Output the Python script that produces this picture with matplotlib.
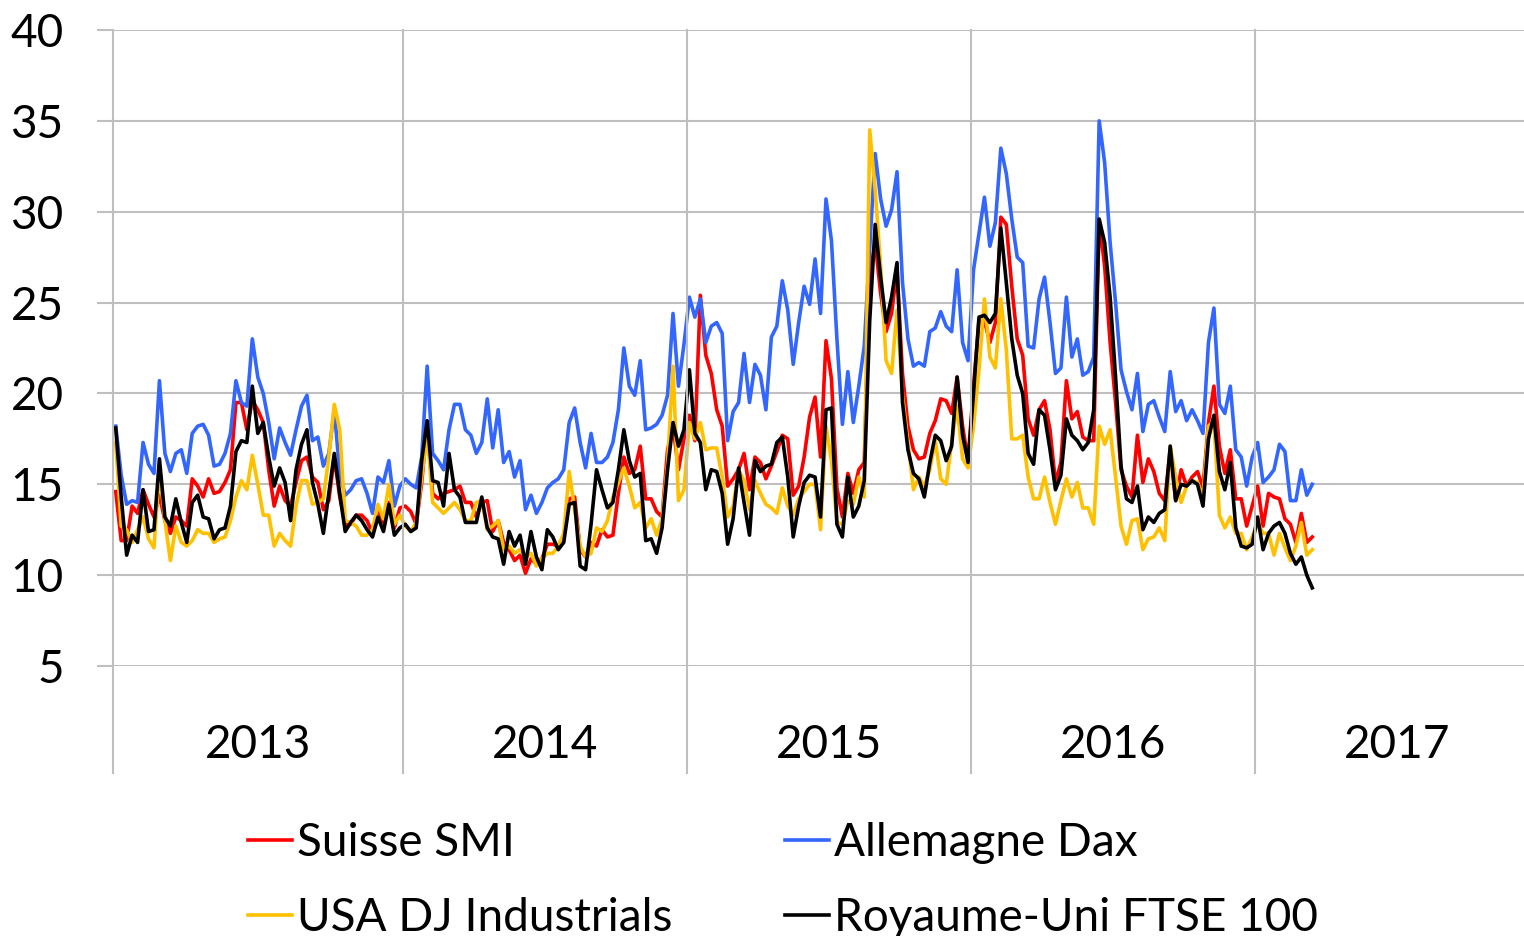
import matplotlib
matplotlib.use('Agg')
import matplotlib.pyplot as plt
import matplotlib.transforms as mtransforms
import numpy as np
import pandas as pd

plt.rcParams['font.family'] = ['Lato', 'DejaVu Sans']

# weekly category slots (one per Tuesday), grouped by year on the axis
first_week = '2013-01-01'
last_week = '2017-12-31'

# implied volatility, weekly values
smi = [14.6, 11.9, 11.9, 13.8, 13.4, 14.7, 13.9, 13.2, 14.4, 13.0, 12.3, 13.2, 13.0, 12.7, 15.3, 14.9, 14.3, 15.3, 14.5, 14.6, 15.1,
       15.8, 19.5, 19.5, 18.0, 19.6, 19.1, 18.4, 15.8, 13.8, 14.9, 14.1, 13.8, 15.1, 16.3, 16.5, 15.4, 15.1, 13.6, 14.1, 16.5, 14.3, 12.8,
       12.8, 13.3, 13.3, 13.0, 12.3, 13.7, 12.9, 14.0, 12.6, 13.7, 13.8, 13.5, 12.8, 15.1, 18.3, 14.5, 14.2, 14.5, 14.6, 14.7, 14.9, 14.0,
       14.0, 13.2, 14.0, 14.1, 12.4, 13.0, 11.8, 11.4, 10.8, 11.1, 10.1, 10.9, 10.6, 10.9, 11.7, 11.7, 11.6, 12.1, 14.2, 14.3, 11.4, 11.0,
       11.8, 11.6, 12.5, 12.1, 12.2, 14.5, 16.5, 15.6, 15.8, 17.1, 14.2, 14.2, 13.5, 13.2, 16.9, 18.2, 15.8, 17.5, 18.8, 17.4, 25.4, 22.1, 21.1,
       19.1, 18.2, 14.9, 15.3, 15.8, 16.7, 14.7, 16.5, 16.2, 15.3, 16.0, 16.8, 17.7, 17.5, 14.4, 14.9, 16.5, 18.7, 19.8, 16.5, 22.9, 20.8,
       14.8, 13.2, 15.6, 14.5, 15.8, 16.2, 26.5, 28.3, 25.5, 23.4, 24.4, 26.8, 21.1, 18.2, 16.9, 16.4, 16.5, 17.8, 18.5, 19.7, 19.6, 18.9,
       20.9, 18.2, 16.3, 20.4, 24.0, 24.0, 22.8, 23.9, 29.7, 29.3, 25.9, 23.0, 22.1, 18.6, 17.7, 19.1, 19.6, 18.0, 15.1, 16.2, 20.7, 18.6,
       19.0, 17.6, 17.4, 17.4, 29.5, 27.0, 22.8, 19.5, 15.8, 14.9, 14.3, 17.7, 15.1, 16.4, 15.7, 14.5, 14.1, 16.9, 14.1, 15.8, 14.9, 15.4,
       15.7, 14.8, 18.4, 20.4, 17.1, 15.6, 16.9, 14.2, 14.2, 12.7, 13.8, 14.9, 12.7, 14.5, 14.3, 14.2, 13.1, 12.8, 11.8, 13.4, 11.8, 12.1]

dax = [18.2, 15.5, 13.9, 14.1, 14.0, 17.3, 16.1, 15.6, 20.7, 16.7, 15.7, 16.7, 16.9, 15.6, 17.8, 18.2, 18.3, 17.7, 16.0, 16.1, 16.7,
       17.8, 20.7, 19.5, 19.3, 23.0, 20.9, 20.0, 18.4, 16.4, 18.1, 17.3, 16.6, 18.0, 19.3, 19.9, 17.4, 17.6, 16.0, 16.7, 19.1, 15.6, 14.4,
       14.7, 15.2, 15.3, 14.5, 13.4, 15.4, 15.1, 16.3, 13.8, 14.9, 15.3, 15.0, 14.8, 16.5, 21.5, 16.7, 16.3, 15.8, 18.0, 19.4, 19.4, 18.0,
       17.7, 16.7, 17.3, 19.7, 17.0, 19.1, 16.2, 16.8, 15.4, 16.3, 13.6, 14.4, 13.4, 14.0, 14.8, 15.1, 15.3, 15.8, 18.4, 19.2, 17.3, 15.9,
       17.8, 16.2, 16.2, 16.5, 17.3, 19.1, 22.5, 20.4, 19.9, 21.8, 18.0, 18.1, 18.3, 18.8, 19.9, 24.4, 20.4, 22.7, 25.3, 24.2, 25.2, 22.8, 23.7,
       23.9, 23.3, 17.4, 19.0, 19.5, 22.2, 19.5, 21.6, 21.0, 19.1, 23.1, 23.7, 26.2, 24.6, 21.6, 23.9, 25.9, 24.9, 27.4, 24.4, 30.7, 28.4,
       23.0, 18.3, 21.2, 18.4, 20.4, 22.6, 28.0, 33.2, 30.7, 29.2, 30.1, 32.2, 26.1, 23.0, 21.5, 21.7, 21.5, 23.4, 23.6, 24.5, 23.7, 23.4,
       26.8, 22.8, 21.8, 26.8, 28.8, 30.8, 28.1, 29.4, 33.5, 32.1, 29.6, 27.5, 27.2, 22.6, 22.5, 25.2, 26.4, 23.9, 21.1, 21.4, 25.3, 22.0,
       23.0, 21.0, 21.2, 22.0, 35.0, 32.7, 28.3, 25.0, 21.3, 20.1, 19.1, 21.1, 17.9, 19.4, 19.6, 18.7, 17.9, 21.2, 19.0, 19.6, 18.5, 19.1,
       18.5, 17.8, 22.8, 24.7, 19.4, 18.9, 20.4, 16.9, 16.5, 14.9, 16.5, 17.3, 15.1, 15.4, 15.8, 17.2, 16.8, 14.1, 14.1, 15.8, 14.4, 15.0]

djia = [17.3, 12.7, 12.5, 11.8, 12.5, 13.2, 12.0, 11.5, 15.8, 13.0, 10.8, 12.7, 11.8, 11.6, 11.9, 12.5, 12.3, 12.3, 11.8, 12.0, 12.1,
        13.0, 14.3, 15.2, 14.7, 16.6, 15.0, 13.3, 13.3, 11.6, 12.3, 11.9, 11.6, 13.8, 15.2, 15.2, 13.9, 14.0, 14.2, 16.5, 19.4, 18.0, 13.0,
        12.9, 12.7, 12.2, 12.2, 12.5, 13.9, 13.1, 15.0, 12.8, 13.3, 12.7, 12.4, 12.9, 15.4, 17.9, 14.0, 13.7, 13.4, 13.7, 14.0, 13.6, 13.0,
        13.0, 14.0, 14.1, 12.5, 12.7, 13.0, 11.4, 11.6, 11.2, 11.4, 11.0, 11.2, 10.5, 10.9, 11.2, 11.2, 11.6, 12.3, 15.7, 13.6, 11.6, 11.0,
        11.2, 12.6, 12.4, 13.0, 14.3, 15.1, 15.9, 14.9, 13.7, 14.0, 12.6, 13.1, 12.2, 13.1, 16.1, 21.5, 14.1, 14.7, 18.4, 17.5, 18.4, 16.9, 17.0,
        17.0, 15.4, 13.2, 13.8, 15.8, 15.2, 13.6, 15.2, 14.5, 13.9, 13.7, 13.4, 14.8, 13.8, 13.3, 14.2, 14.6, 15.0, 15.0, 12.5, 18.2, 16.3,
        12.9, 12.8, 14.1, 13.9, 15.4, 14.3, 34.5, 31.2, 27.0, 21.8, 21.1, 24.6, 19.9, 17.3, 14.7, 15.4, 14.9, 15.8, 17.4, 15.3, 15.0, 17.3,
        19.3, 16.4, 15.9, 18.2, 21.3, 25.2, 22.0, 21.4, 25.2, 22.4, 17.5, 17.5, 17.7, 15.4, 14.2, 14.2, 15.4, 14.0, 12.8, 14.1, 15.3, 14.3,
        15.1, 13.7, 13.7, 12.8, 18.2, 17.2, 18.0, 15.4, 12.7, 11.7, 13.0, 13.1, 11.4, 12.0, 12.1, 12.6, 11.9, 17.1, 15.4, 14.0, 14.9, 15.2,
        15.1, 14.3, 18.2, 18.5, 13.3, 12.6, 13.2, 12.3, 12.3, 11.4, 12.1, 12.9, 12.3, 12.3, 11.1, 12.3, 11.5, 10.8, 11.6, 12.9, 11.1, 11.4]

ftse = [18.1, 14.3, 11.1, 12.2, 11.8, 14.7, 12.4, 12.5, 16.4, 13.2, 12.7, 14.2, 12.9, 11.8, 14.0, 14.4, 13.2, 13.1, 12.0, 12.5, 12.6,
        13.8, 16.8, 17.4, 17.3, 20.4, 17.8, 18.4, 16.5, 14.9, 15.9, 15.1, 13.0, 15.8, 17.2, 18.0, 15.1, 13.9, 12.3, 14.5, 16.7, 14.5, 12.4,
        12.9, 13.3, 13.0, 12.5, 12.1, 13.2, 12.4, 13.9, 12.2, 12.6, 12.8, 12.4, 12.6, 16.3, 18.5, 15.2, 15.1, 13.8, 16.7, 14.7, 14.3, 12.9,
        12.9, 12.9, 14.3, 12.6, 12.1, 12.0, 10.6, 12.4, 11.6, 12.2, 10.6, 12.4, 11.0, 10.3, 12.5, 12.1, 11.4, 11.8, 13.9, 14.0, 10.5, 10.3,
        12.8, 15.8, 14.7, 13.7, 14.0, 15.8, 18.0, 16.3, 15.4, 15.6, 11.9, 12.0, 11.2, 12.6, 15.8, 18.4, 17.1, 18.0, 21.3, 17.8, 17.3, 14.7, 15.8,
        15.7, 14.5, 11.7, 13.1, 15.9, 14.0, 12.2, 16.3, 15.7, 16.0, 16.1, 17.3, 17.6, 15.4, 12.1, 13.8, 15.1, 15.5, 15.4, 13.2, 19.1, 19.2,
        12.8, 12.1, 15.4, 13.2, 13.8, 15.2, 24.0, 29.3, 26.4, 23.9, 25.3, 27.2, 19.5, 16.9, 15.6, 15.3, 14.3, 16.2, 17.7, 17.4, 16.3, 17.1,
        20.9, 17.7, 16.2, 20.0, 24.2, 24.3, 23.9, 24.4, 29.1, 26.1, 23.0, 21.0, 20.0, 16.7, 16.1, 19.1, 18.8, 16.9, 14.7, 15.5, 18.6, 17.7,
        17.4, 16.9, 17.3, 19.1, 29.6, 28.3, 25.3, 20.9, 16.0, 14.2, 14.0, 14.9, 12.5, 13.2, 12.9, 13.4, 13.6, 17.1, 14.1, 15.0, 14.9, 15.2,
        15.0, 13.8, 17.5, 18.8, 15.7, 14.7, 16.2, 12.6, 11.6, 11.5, 11.7, 13.2, 11.4, 12.3, 12.7, 12.9, 12.3, 11.2, 10.6, 11.0, 10.0, 9.3]

labels = ['Suisse SMI', 'Allemagne Dax', 'USA DJ Industrials', 'Royaume-Uni FTSE 100']
colors = ['#FF0000', '#3366FF', '#FFC000', '#000000']

grid_c = '#BFBFBF'
W, H = 1524, 936
fs = 33

all_weeks = pd.date_range(first_week, last_week, freq='W-TUE')
week_years = np.array(all_weeks.year)

fig = plt.figure(figsize=(W / 100, H / 100), dpi=100)
# plot area runs a bit past the right edge, as in the original
ax = fig.add_axes([113 / W, 1 - 666 / H, (1539 - 113) / W, (666 - 30) / H])

x = np.arange(len(smi))
handles = []
for vals, lab, col in zip([smi, dax, djia, ftse], labels, colors):
    h, = ax.plot(x, vals, color=col, lw=2.6, solid_joinstyle='round', label=lab)
    handles.append(h)

ax.set_xlim(-0.5, len(all_weeks) - 0.5)
ax.set_ylim(5, 40)
ax.set_yticks(np.arange(5, 45, 5))
ax.set_xticks([])
ax.yaxis.grid(True, color=grid_c, lw=1.5)
ax.set_axisbelow(True)
for s in ax.spines.values():
    s.set_visible(False)
ax.tick_params(axis='y', length=11.5, width=1.5, color=grid_c, labelsize=fs, pad=24, labelcolor='#000000')

# year dividers (multi-level category axis) and year labels
trans = mtransforms.blended_transform_factory(ax.transData, ax.transAxes)
bottom = -(773 - 666) / (666 - 30)
for yr in sorted(set(week_years)):
    idx = np.where(week_years == yr)[0]
    b = idx[0] - 0.5
    ax.plot([b, b], [1, bottom], transform=trans, clip_on=False, color=grid_c, lw=1.5)
    ax.text((idx[0] + idx[-1]) / 2, -(745 - 666) / (666 - 30), str(yr), transform=trans,
            ha='center', va='center', fontsize=fs)

order = [0, 2, 1, 3]
fig.legend([handles[i] for i in order], [labels[i] for i in order], ncol=2,
           loc='upper left', bbox_to_anchor=(248 / W, 1 - 822 / H), frameon=False,
           fontsize=fs, handlelength=0.97, handletextpad=0.1, columnspacing=2.45,
           labelspacing=0.72, borderpad=0, borderaxespad=0)

fig.savefig('out.png', dpi=100)
